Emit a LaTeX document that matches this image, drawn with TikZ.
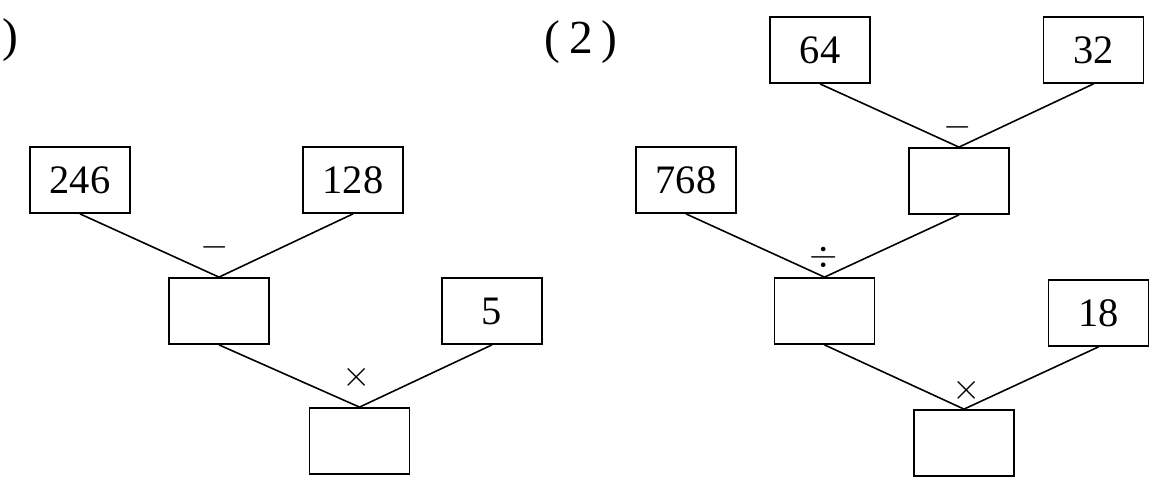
\documentclass[tikz,border=0pt]{standalone}
\usepackage{fontspec}
\setmainfont{Liberation Serif}
\begin{document}
\begin{tikzpicture}[box/.style={draw,line width=1pt,minimum width=2cm,minimum height=1.32cm,inner sep=0pt,font=\fontsize{23}{27}\selectfont},
  op/.style={font=\fontsize{20}{24}\selectfont,inner sep=0pt},
  link/.style={line width=0.9pt}]
  \useasboundingbox (0,0) rectangle (23.28,9.8);
  % (1)
  \node(P1) at (0.2,9.0) {\fontsize{27}{30}\selectfont )};
  \node[box](A) at (1.6,6.2) {246};
  \node[box](B) at (7.06,6.2) {128};
  \node[box](C) at (4.38,3.58) {};
  \node[box](D) at (9.84,3.58) {5};
  \node[box](E) at (7.19,0.98) {};
  \draw[link] (A.south) -- (C.north);
  \draw[link] (B.south) -- (C.north);
  \draw[link] (C.south) -- (E.north);
  \draw[link] (D.south) -- (E.north);
  \node[op](m1) at (4.3,4.86) {$-$};
  \node[op](t1) at (7.13,2.26) {$\times$};
  % (2)
  \node(P2) at (11.62,8.95) {\fontsize{27}{30}\selectfont (\kern5pt2\kern5pt)};
  \node[box](F) at (16.4,8.8) {64};
  \node[box](G) at (21.87,8.8) {32};
  \node[box](H) at (19.18,6.18) {};
  \node[box](I) at (13.72,6.2) {768};
  \node[box](J) at (16.49,3.58) {};
  \node[box](K) at (21.97,3.54) {18};
  \node[box](L) at (19.28,0.94) {};
  \draw[link] (F.south) -- (H.north);
  \draw[link] (G.south) -- (H.north);
  \draw[link] (I.south) -- (J.north);
  \draw[link] (H.south) -- (J.north);
  \draw[link] (J.south) -- (L.north);
  \draw[link] (K.south) -- (L.north);
  \node[op](m2) at (19.16,7.26) {$-$};
  \node[op](d2) at (16.48,4.66) {$\div$};
  \node[op](t2) at (19.34,2.0) {$\times$};
\end{tikzpicture}
\end{document}
